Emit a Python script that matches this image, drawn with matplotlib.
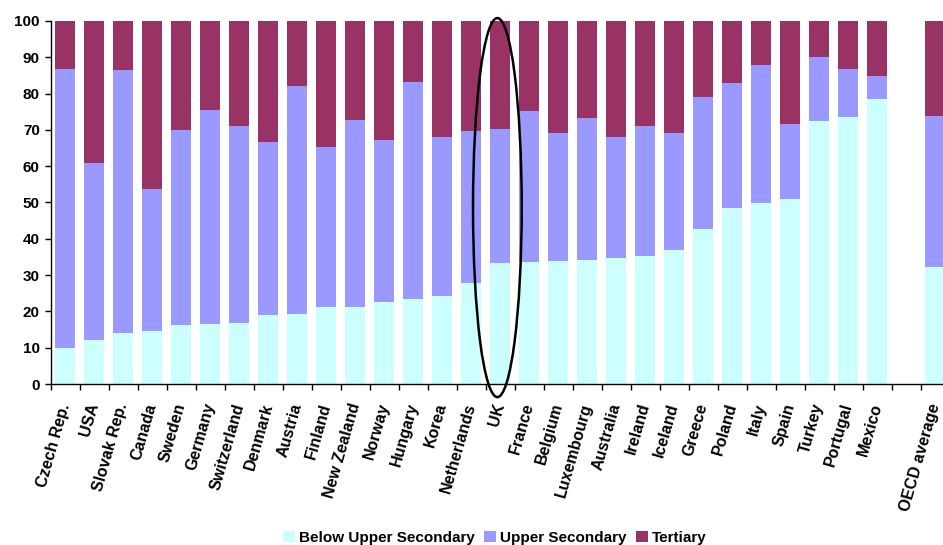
import numpy as np
import matplotlib.pyplot as plt
from matplotlib.patches import Ellipse

plt.rcParams['font.family'] = ['Liberation Sans', 'DejaVu Sans']
plt.rcParams['font.weight'] = 'bold'

# share of adults by highest level of education attained (%)
countries = ['Czech Rep.', 'USA', 'Slovak Rep.', 'Canada', 'Sweden', 'Germany',
             'Switzerland', 'Denmark', 'Austria', 'Finland', 'New Zealand', 'Norway',
             'Hungary', 'Korea', 'Netherlands', 'UK', 'France', 'Belgium',
             'Luxembourg', 'Australia', 'Ireland', 'Iceland', 'Greece', 'Poland',
             'Italy', 'Spain', 'Turkey', 'Portugal', 'Mexico', '', 'OECD average']
below_upper = [9.9, 12.1, 14.0, 14.6, 16.3, 16.5, 16.8, 19.0, 19.3, 21.2, 21.2, 22.6,
               23.4, 24.2, 27.8, 33.3, 33.6, 33.9, 34.2, 34.7, 35.3, 36.9, 42.7, 48.5,
               49.9, 51.0, 72.5, 73.6, 78.5, 0, 32.2]
upper_secondary = [76.9, 48.8, 72.5, 39.1, 53.7, 59.0, 54.3, 47.7, 62.8, 44.1, 51.5, 44.6,
                   59.8, 43.8, 41.9, 36.9, 41.6, 35.2, 39.1, 33.3, 35.8, 32.2, 36.4, 34.4,
                   38.0, 20.6, 17.6, 13.2, 6.3, 0, 41.6]
tertiary = [13.2, 39.1, 13.5, 46.3, 30.0, 24.5, 28.9, 33.3, 17.9, 34.7, 27.3, 32.8,
            16.8, 32.0, 30.3, 29.8, 24.8, 30.9, 26.7, 32.0, 28.9, 30.9, 20.9, 17.1,
            12.1, 28.4, 9.9, 13.2, 15.2, 0, 26.2]

x = np.arange(len(countries))
below_upper = np.array(below_upper)
upper_secondary = np.array(upper_secondary)
tertiary = np.array(tertiary)

fig = plt.figure(figsize=(9.43, 5.45), dpi=100)
ax = fig.add_axes([0.054, 0.2954, 0.953, 0.6661])

w = 0.69
ax.bar(x, below_upper, w, color='#CCFFFF', label='Below Upper Secondary')
ax.bar(x, upper_secondary, w, bottom=below_upper, color='#9999FF', label='Upper Secondary')
ax.bar(x, tertiary, w, bottom=below_upper + upper_secondary, color='#993366', label='Tertiary')

ax.set_xlim(-0.5, len(countries) - 0.5)
ax.set_ylim(0, 100)
ax.set_yticks(np.arange(0, 101, 10))
ax.tick_params(axis='y', direction='out', length=4, width=1, labelsize=11, pad=4)

# category labels sit between the tick marks
ax.set_xticks(np.arange(len(countries)) - 0.5, minor=False)
ax.set_xticklabels([])
ax.tick_params(axis='x', which='major', direction='out', length=4, width=1)
ax.set_xticks(x, minor=True)
ax.set_xticklabels(countries, minor=True, rotation=74, ha='right', va='center',
                   rotation_mode='anchor', fontsize=11.5)
ax.tick_params(axis='x', which='minor', length=0, pad=14)

for side in ['top', 'right']:
    ax.spines[side].set_visible(False)
ax.spines['left'].set_linewidth(1)
ax.spines['bottom'].set_linewidth(1)

# highlight the UK bar
uk = countries.index('UK')
ax.add_patch(Ellipse((uk - 0.1, 48.6), 1.68, 104.4, fill=False, edgecolor='black',
                     linewidth=1.8, clip_on=False))

fig.legend(loc='lower center', bbox_to_anchor=(0.525, -0.025), ncol=3, frameon=False,
           fontsize=11, handlelength=0.75, handleheight=0.75, handletextpad=0.3,
           columnspacing=0.6)

fig.savefig('out.png', dpi=100)
